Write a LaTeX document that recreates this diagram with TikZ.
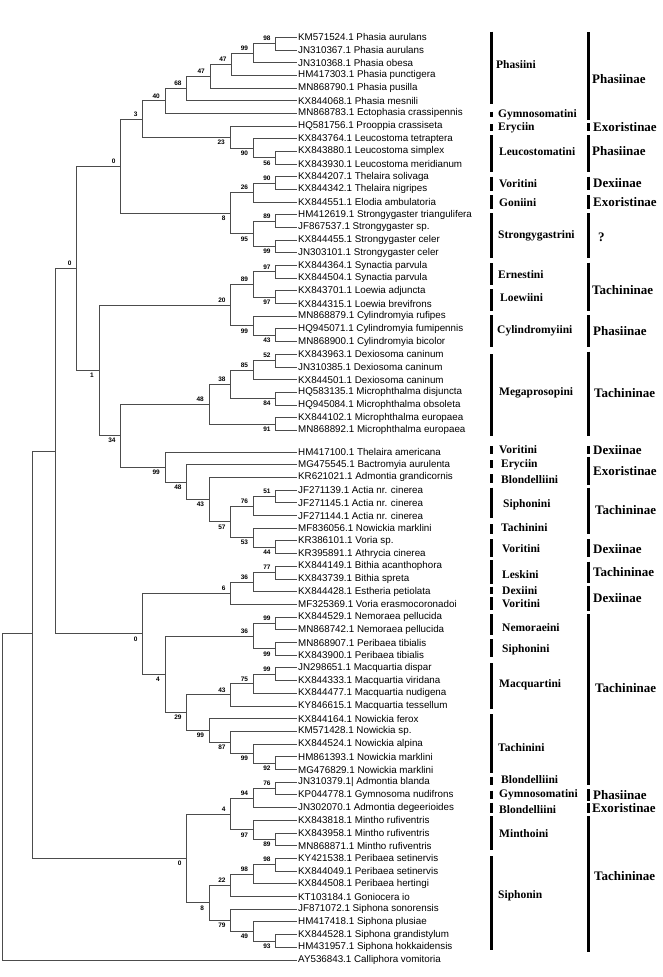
\documentclass[tikz,border=0pt]{standalone}
\usepackage{fontspec}
\setmainfont{Liberation Sans}
\newfontfamily\tnr{Liberation Serif}
\begin{document}
\begin{tikzpicture}
		[x=1pt,y=-1pt,
		leaf/.style={anchor=west,inner sep=1pt,font=\fontsize{9.8}{11}\selectfont},
		bsu/.style={anchor=south east,inner sep=0pt,xshift=-5pt,yshift=2.5pt,font=\fontsize{6.5}{7}\selectfont\bfseries},
		bsl/.style={anchor=north east,inner sep=0pt,xshift=-5pt,yshift=-2.5pt,font=\fontsize{6.5}{7}\selectfont\bfseries},
		branch/.style={draw=black!70,line width=0.9pt},
		bar/.style={line width=3pt},
		tribe/.style={anchor=west,inner sep=0pt,font=\tnr\bfseries\fontsize{11.5}{13}\selectfont},
		subfam/.style={anchor=west,inner sep=0pt,font=\tnr\bfseries\fontsize{13}{15}\selectfont}]
		\useasboundingbox (0,0) rectangle (662,977);
		
		\foreach \lab [count=\i from 0] in {KM571524.1 Phasia aurulans,JN310367.1 Phasia aurulans,JN310368.1 Phasia obesa,HM417303.1 Phasia punctigera,MN868790.1 Phasia pusilla,KX844068.1 Phasia mesnili,MN868783.1 Ectophasia crassipennis,HQ581756.1 Prooppia crassiseta,KX843764.1 Leucostoma tetraptera,KX843880.1 Leucostoma simplex,KX843930.1 Leucostoma meridianum,KX844207.1 Thelaira solivaga,KX844342.1 Thelaira nigripes,KX844551.1 Elodia ambulatoria,HM412619.1 Strongygaster triangulifera,JF867537.1 Strongygaster sp.,KX844455.1 Strongygaster celer,JN303101.1 Strongygaster celer,KX844364.1 Synactia parvula,KX844504.1 Synactia parvula,KX843701.1 Loewia adjuncta,KX844315.1 Loewia brevifrons,MN868879.1 Cylindromyia rufipes,HQ945071.1 Cylindromyia fumipennis,MN868900.1 Cylindromyia bicolor,KX843963.1 Dexiosoma caninum,JN310385.1 Dexiosoma caninum,KX844501.1 Dexiosoma caninum,HQ583135.1 Microphthalma disjuncta,HQ945084.1 Microphthalma obsoleta,KX844102.1 Microphthalma europaea,MN868892.1 Microphthalma europaea,HM417100.1 Thelaira americana,MG475545.1 Bactromyia aurulenta,KR621021.1 Admontia grandicornis,JF271139.1 Actia nr. cinerea,JF271145.1 Actia nr. cinerea,JF271144.1 Actia nr. cinerea,MF836056.1 Nowickia marklini,KR386101.1 Voria sp.,KR395891.1 Athrycia cinerea,KX844149.1 Bithia acanthophora,KX843739.1 Bithia spreta,KX844428.1 Estheria petiolata,MF325369.1 Voria erasmocoronadoi,KX844529.1 Nemoraea pellucida,MN868742.1 Nemoraea pellucida,MN868907.1 Peribaea tibialis,KX843900.1 Peribaea tibialis,JN298651.1 Macquartia dispar,KX844333.1 Macquartia viridana,KX844477.1 Macquartia nudigena,KY846615.1 Macquartia tessellum,KX844164.1 Nowickia ferox,KM571428.1 Nowickia sp.,KX844524.1 Nowickia alpina,HM861393.1 Nowickia marklini,MG476829.1 Nowickia marklini,JN310379.1| Admontia blanda,KP044778.1 Gymnosoma nudifrons,JN302070.1 Admontia degeerioides,KX843818.1 Mintho rufiventris,KX843958.1 Mintho rufiventris,MN868871.1 Mintho rufiventris,KY421538.1 Peribaea setinervis,KX844049.1 Peribaea setinervis,KX844508.1 Peribaea hertingi,KT103184.1 Goniocera io,JF871072.1 Siphona sonorensis,HM417418.1 Siphona plusiae,KX844528.1 Siphona grandistylum,HM431957.1 Siphona hokkaidensis,AY536843.1 Calliphora vomitoria}
		{\pgfmathsetmacro\yy{\i<32 ? 37.3+12.68*\i : 452+12.7*(\i-32)}
		\node[leaf] (t\i) at (297,\yy) {\lab};}
		
		\foreach \n/\x/\y in {phA/275.7/43.64,phB/253.3/53.15,phC/231.7/64.25,phD/210/76.13,phE/186.7/88.42,phF/165/100.9,leuA/275.7/157.76,leuB/253.3/148.25,leuC/230/137.16,cl3/142.7/119.03,thA/275.7/183.12,thB/253.3/192.63,stA/275.7/221.16,stB/275.7/246.52,stC/253.3/233.84,cl8/230.7/213.24,cl0a/120.7/166.14,synA/275.7/271.88,loeA/275.7/297.24,erlo/253.3/284.56,cyA/275.7/335.28,cyB/253.3/325.77,cl20/230.7/305.17,dxA/275.7/360.64,dxB/253.3/370.15,miA/275.7/398.68,cl38/230.7/384.42,miB/275.7/424.04,cl48/209/404.23,acA/275.7/496.45,acB/253.3/505.98,voA/275.7/547.25,voB/253.3/537.73,cl57/230.7/521.86,cl43/209.3/499.63,cl48b/186.7/482.17,cl99/165/467.08,cl34/120.7/435.66,cl1/99/370.42,cl0b/76.7/268.28,biA/275.7/572.65,biB/253.3/582.18,cl6/230.7/593.29,neA/275.7/623.45,peA/275.7/648.85,cl36/253.3/636.15,maA/275.7/674.25,maB/253.3/683.78,maC/230.7/694.89,noA/275.7/763.15,noB/253.3/753.63,noC/230.7/742.51,noD/209.3/730.61,cl29/186.7/712.75,cl4/165/674.45,cl0c/142.7/633.87,clX/55/451.08,adA/275.7/788.55,adB/253.3/798.08,miC/275.7/839.35,miD/253.3/829.83,cl4b/230.7/813.96,psA/275.7/864.75,psB/253.3/874.28,cl22/230.7/885.39,siA/275.7/940.95,siB/253.3/931.43,cl79/230.7/920.32,cl8b/209.3/902.86,cl0d/186.7/858.41,clY/32.7/633,root/2.7/796.5}
		\coordinate (\n) at (\x,\y);
		
		\foreach \from/\to in {phA/t0,phA/t1,phB/phA,phB/t2,phC/phB,phC/t3,phD/phC,phD/t4,phE/phD,phE/t5,phF/phE,phF/t6,leuA/t9,leuA/t10,leuB/t8,leuB/leuA,leuC/t7,leuC/leuB,cl3/phF,cl3/leuC,thA/t11,thA/t12,thB/thA,thB/t13,stA/t14,stA/t15,stB/t16,stB/t17,stC/stA,stC/stB,cl8/thB,cl8/stC,cl0a/cl3,cl0a/cl8,synA/t18,synA/t19,loeA/t20,loeA/t21,erlo/synA,erlo/loeA,cyA/t23,cyA/t24,cyB/t22,cyB/cyA,cl20/erlo,cl20/cyB,dxA/t25,dxA/t26,dxB/dxA,dxB/t27,miA/t28,miA/t29,cl38/dxB,cl38/miA,miB/t30,miB/t31,cl48/cl38,cl48/miB,acA/t35,acA/t36,acB/acA,acB/t37,voA/t39,voA/t40,voB/t38,voB/voA,cl57/acB,cl57/voB,cl43/t34,cl43/cl57,cl48b/t33,cl48b/cl43,cl99/t32,cl99/cl48b,cl34/cl48,cl34/cl99,cl1/cl20,cl1/cl34,cl0b/cl0a,cl0b/cl1,biA/t41,biA/t42,biB/biA,biB/t43,cl6/biB,cl6/t44,neA/t45,neA/t46,peA/t47,peA/t48,cl36/neA,cl36/peA,maA/t49,maA/t50,maB/maA,maB/t51,maC/maB,maC/t52,noA/t56,noA/t57,noB/t55,noB/noA,noC/t54,noC/noB,noD/t53,noD/noC,cl29/maC,cl29/noD,cl4/cl36,cl4/cl29,cl0c/cl6,cl0c/cl4,clX/cl0b,clX/cl0c,adA/t58,adA/t59,adB/adA,adB/t60,miC/t62,miC/t63,miD/t61,miD/miC,cl4b/adB,cl4b/miD,psA/t64,psA/t65,psB/psA,psB/t66,cl22/psB,cl22/t67,siA/t70,siA/t71,siB/t69,siB/siA,cl79/t68,cl79/siB,cl8b/cl22,cl8b/cl79,cl0d/cl4b,cl0d/cl8b,clY/clX,clY/cl0d,root/clY,root/t72}
		\draw[branch] (\from) |- (\to);
		
		\foreach \c/\v/\s in {phA/98/bsu,phB/99/bsu,phC/47/bsu,phD/47/bsu,phE/68/bsu,phF/40/bsu,leuA/56/bsl,leuB/90/bsl,leuC/23/bsl,cl3/3/bsu,thA/90/bsu,thB/26/bsu,stA/89/bsu,stB/99/bsl,stC/95/bsl,cl8/8/bsl,cl0a/0/bsu,synA/97/bsu,loeA/97/bsl,erlo/89/bsu,cyA/43/bsl,cyB/99/bsl,cl20/20/bsu,dxA/52/bsu,dxB/85/bsu,miA/84/bsl,cl38/38/bsu,miB/91/bsl,cl48/48/bsu,acA/51/bsu,acB/76/bsu,voA/44/bsl,voB/53/bsl,cl57/57/bsl,cl43/43/bsl,cl48b/48/bsl,cl99/99/bsl,cl34/34/bsl,cl1/1/bsl,cl0b/0/bsu,biA/77/bsu,biB/36/bsu,cl6/6/bsu,neA/99/bsu,peA/99/bsl,cl36/36/bsu,maA/99/bsu,maB/75/bsu,maC/43/bsu,noA/92/bsl,noB/99/bsl,noC/87/bsl,noD/99/bsl,cl29/29/bsl,cl4/4/bsl,cl0c/0/bsl,adA/76/bsu,adB/94/bsu,miC/89/bsl,miD/97/bsl,cl4b/4/bsu,psA/98/bsu,psB/98/bsu,cl22/22/bsu,siA/93/bsl,siB/49/bsl,cl79/79/bsl,cl8b/8/bsl,cl0d/0/bsl}
		\node[\s] (b\c) at (\c) {\v};
		
		\foreach \a/\b/\tx/\ty/\t [count=\k] in {31.7/104/496/65/Phasiini,111.7/117.3/498/115/Gymnosomatini,124/130.7/498/127.3/Eryciin,135/171.7/499/151.7/Leucostomatini,176.7/190.7/499/184/Voritini,195/209/499/202.3/Goniini,213.3/258.3/498/236/Strongygastrini,263.3/285/498/274.3/Ernestini,289.3/310.7/500/297.7/Loewiini,315/346.7/497/330.7/Cylindromyiini,354/436/499/392.7/Megaprosopini,446/454/499/450/Voritini,460/467.7/501/464.3/Eryciin,474/483.3/501/479.3/Blondelliini,487.7/518.3/503/505/Siphonini,524/534/501/527.3/Tachinini,539.3/557.3/502/548.3/Voritini,560/584/502/575/Leskini,586.7/594/502/591/Dexiini,597.3/610/502/604/Voritini,614/635/502/627.3/Nemoraeini,639.3/656.7/502/649.3/Siphonini,663.3/709.3/499/685/Macquartini,714/772.7/498/747.3/Tachinini,776.7/785/501/780/Blondelliini,790.7/799.3/499/795/Gymnosomatini,802.7/812.7/499/809.3/Blondelliini,816/850/499/834/Minthoini,856/950/498/895.7/Siphonin}
		{\draw[bar] (491,\a) -- (491,\b);
		\node[tribe] (tr\k) at (\tx,\ty) {\t};}
		
		\foreach \a/\b/\tx/\ty/\t [count=\k] in {32.3/120/592/79/Phasiinae,123.3/130.7/593/127.3/Exoristinae,135/171.7/592/150.7/Phasiinae,176.7/190/593/182.7/Dexiinae,195/209/593/201.7/Exoristinae,213.3/258.3/598/237.3/?,262.7/310.7/592/290/Tachininae,315/346.7/593/330.7/Phasiinae,351.7/436/594/393.3/Tachininae,446/454/593/450/Dexiinae,456.7/485/593/471/Exoristinae,487.7/534/595/510/Tachininae,539.3/557.3/593/549.3/Dexiinae,561.7/582.7/593/572.3/Tachininae,586/610.7/593/597.7/Dexiinae,614/785/595/688.3/Tachininae,789.3/800.7/593/795/Phasiinae,802.7/812.7/592/808.3/Exoristinae,816/951.7/594/875.7/Tachininae}
		{\draw[bar] (588.3,\a) -- (588.3,\b);
		\node[subfam] (sf\k) at (\tx,\ty) {\t};}
		\end{tikzpicture}
\end{document}
